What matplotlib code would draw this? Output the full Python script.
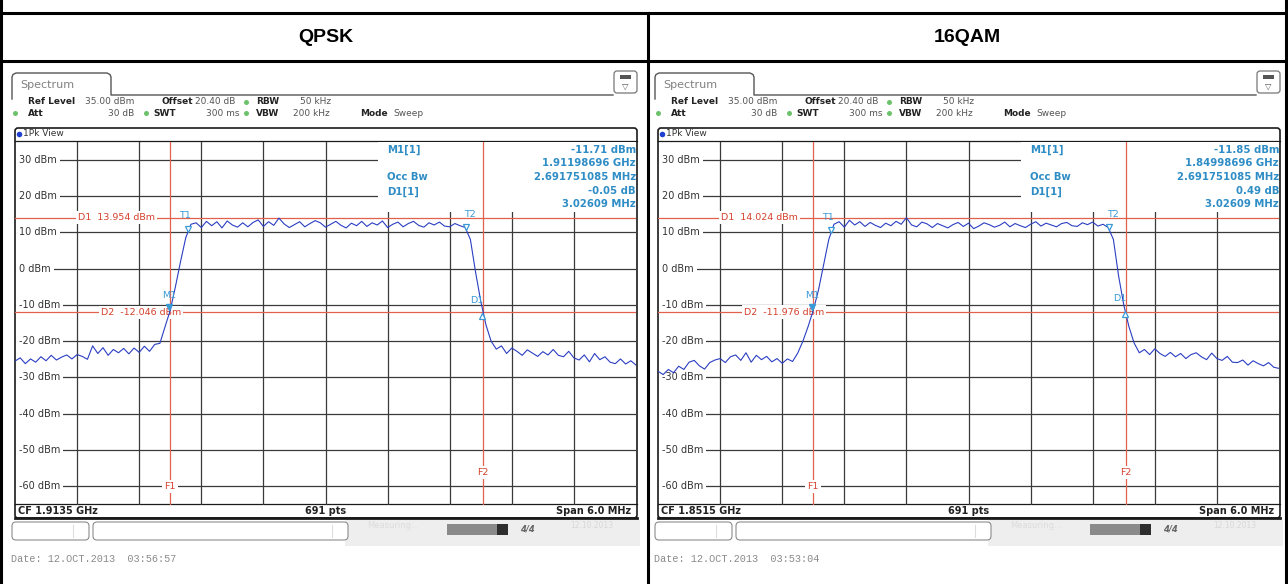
#occupied bandwidth screenshots, QPSK / 16QAM

import numpy as np
import matplotlib.pyplot as plt
from matplotlib.patches import FancyBboxPatch, Rectangle

W, H = 1288, 584

titles = ['QPSK', '16QAM']
cf_text = ['CF 1.9135 GHz', 'CF 1.8515 GHz']
date_text = ['Date: 12.OCT.2013  03:56:57', 'Date: 12.OCT.2013  03:53:04']
m1_level = [-11.71, -11.85]
m1_freq_text = ['1.91198696 GHz', '1.84998696 GHz']
occ_bw_text = '2.691751085 MHz'
d1_delta = [-0.05, 0.49]
d1_spacing_text = '3.02609 MHz'
d1_line = [13.954, 14.024]
d2_line = [-12.046, -11.976]
m1_offset = -1.513      # MHz from CF
d1_spacing = 3.02609
occ_bw = 2.691751085
t1_offset = -1.33
f1_offset = -1.50
f2_offset = 1.52
span = 6.0
ref_level = 35.0
y_range = 100.0
level_ticks = [30, 20, 10, 0, -10, -20, -30, -40, -50, -60]
freq_ticks = [-2.4, -1.8, -1.2, -0.6, 0.0, 0.6, 1.2, 1.8, 2.4]

# trace levels (dBm) read off the screens, evenly spread over the span
# QPSK
qpsk_low = [-25.5, -24.6, -26.2, -24.9, -25.8, -24.3, -25.4, -23.9, -25.2, -24.4,
            -23.8, -24.9, -23.7, -24.2, -25.0, -21.3, -23.4, -21.8, -23.9, -22.3,
            -23.2, -22.0, -23.5, -21.9, -23.1, -21.4, -22.8, -20.9, -20.6, -16.0]
qpsk_rise = [-11.5, -5, 2, 8.5, 12.2]
qpsk_top = [12.6, 11.3, 13.0, 11.8, 12.9, 11.2, 13.1, 12.0, 11.4, 12.6,
            11.5, 12.7, 13.4, 11.6, 12.9, 11.9, 13.9, 12.3, 11.3, 12.1,
            12.9, 11.5, 12.4, 13.2, 12.6, 11.4, 12.2, 13.0, 11.9, 11.2,
            12.5, 11.8, 13.0, 11.6, 12.6, 12.0, 13.1, 11.3, 12.2, 12.8,
            11.5, 12.4, 13.0, 11.9, 11.4, 12.6, 12.0, 12.8, 11.7, 11.5,
            12.4, 11.8, 11.3]
qpsk_fall = [8, -1, -9, -15.5, -20]
qpsk_high = [-22.2, -21.3, -23.4, -21.9, -22.8, -23.9, -22.4, -23.3, -24.2, -22.9,
             -23.8, -22.3, -23.9, -24.3, -22.8, -24.6, -25.2, -23.8, -25.7, -23.4,
             -25.1, -24.3, -25.8, -26.2, -24.9, -26.3, -25.4, -26.6]
# 16QAM
qam_low = [-28.3, -29.2, -27.8, -28.7, -26.9, -27.8, -25.8, -25.3, -26.8, -27.7,
           -25.9, -25.2, -24.8, -25.9, -24.3, -23.8, -25.3, -23.2, -25.8, -23.9,
           -25.1, -24.2, -25.7, -24.8, -26.1, -24.9, -25.6, -23.3, -20.0, -16.0]
qam_rise = [-11.5, -6, 1, 8, 12.2]
qam_top = [12.9, 11.4, 13.3, 12.0, 12.9, 11.6, 12.7, 11.9, 11.3, 12.5,
           11.8, 13.0, 12.2, 14.0, 12.0, 11.5, 12.8, 12.3, 11.3, 12.4,
           11.8, 11.2, 12.1, 12.7, 11.6, 12.5, 11.0, 11.7, 12.6, 12.1,
           11.4, 11.9, 12.8, 11.5, 12.4, 11.8, 11.3, 12.2, 12.9, 11.7,
           12.5, 12.0, 11.5, 12.4, 12.7, 11.8, 11.6, 12.6, 12.1, 12.8,
           11.7, 12.2, 11.3]
qam_fall = [8, -2, -10, -16, -20.5]
qam_high = [-23.2, -22.3, -23.7, -22.1, -23.4, -24.2, -23.1, -24.3, -23.4, -24.8,
            -23.7, -23.2, -24.3, -25.1, -23.3, -24.8, -25.3, -24.2, -25.8, -25.9,
            -25.2, -26.6, -25.4, -26.2, -26.8, -25.9, -27.2, -27.5]

traces = [qpsk_low + qpsk_rise + qpsk_top + qpsk_fall + qpsk_high,
          qam_low + qam_rise + qam_top + qam_fall + qam_high]

GRID = '#3a3a3a'
RED = '#e2614d'
RED_TXT = '#d4412c'
TRACE = '#2b3ec2'
MARK = '#3a9ad6'
INFO = '#2f8dc5'
LBL = '#333333'
SANS = 'DejaVu Sans'

# plot area in pixels, panel local
PX0, PX1 = 15, 636
PY0, PY1 = 141.5, 504.5


def px2f(px):
    return -span / 2 + (px - PX0) / (PX1 - PX0) * span


def py2l(py):
    return ref_level - (py - PY0) / (PY1 - PY0) * y_range


def panel_background(bg, ox, k):
    # spectrum tab + header line
    tx = [ox + 12, ox + 12, ox + 13, ox + 16, ox + 107, ox + 110, ox + 111, ox + 111, ox + 613]
    ty = [99, 77, 74.5, 73, 73, 74.5, 77, 95, 95]
    bg.plot(tx, ty, color='#555555', lw=1.0)
    bg.text(ox + 20, 84.5, 'Spectrum', fontsize=8, color='#808080', va='center', family=SANS)
    # icon box at the right
    bg.add_patch(FancyBboxPatch((ox + 614, 71), 23, 22, boxstyle='round,pad=0,rounding_size=3',
                                facecolor='white', edgecolor='#777777', lw=0.9))
    bg.add_patch(Rectangle((ox + 620, 75), 11, 4, facecolor='#555555', edgecolor='none'))
    bg.text(ox + 625.5, 86, '\u25bd', fontsize=6, color='#555555', ha='center', va='center')

    # settings rows
    fs = 6.5
    y1, y2 = 102, 113
    row = [(28, y1, 'Ref Level', 'bold', 'left'), (85, y1, '35.00 dBm', 'normal', 'left'),
           (162, y1, 'Offset', 'bold', 'left'), (195, y1, '20.40 dB', 'normal', 'left'),
           (256, y1, 'RBW', 'bold', 'left'), (300, y1, '50 kHz', 'normal', 'left'),
           (28, y2, 'Att', 'bold', 'left'), (134, y2, '30 dB', 'normal', 'right'),
           (153, y2, 'SWT', 'bold', 'left'), (240, y2, '300 ms', 'normal', 'right'),
           (256, y2, 'VBW', 'bold', 'left'), (293, y2, '200 kHz', 'normal', 'left'),
           (360, y2, 'Mode', 'bold', 'left'), (393, y2, 'Sweep', 'normal', 'left')]
    for x, y, s, w, ha in row:
        col = '#222222' if w == 'bold' else '#555555'
        bg.text(ox + x, y, s, fontsize=fs, fontweight=w, color=col, ha=ha, va='center', family=SANS)
    for x, y in [(246, y1), (15, y2), (146, y2), (246, y2)]:
        bg.plot(ox + x, y, 'o', ms=3.6, color='#6cc26c', mec='none')

    # plot frame
    bg.add_patch(FancyBboxPatch((ox + 15, 128), 622, 390, boxstyle='round,pad=0,rounding_size=3',
                                facecolor='none', edgecolor='#1a1a1a', lw=1.2))
    bg.plot([ox + 15, ox + 637], [517.5, 517.5], color='#1a1a1a', lw=2.0)
    bg.plot([ox + 15, ox + 637], [140.5, 140.5], color='#1a1a1a', lw=0.9)
    bg.plot([ox + 15, ox + 637], [503.5, 503.5], color='#1a1a1a', lw=0.9)
    bg.plot(ox + 19, 134, 'o', ms=4, color='#1f3fd0', mec='none')
    bg.text(ox + 23, 134, '1Pk View', fontsize=6.5, color=LBL, va='center', family=SANS)
    bg.text(ox + 18, 511, cf_text[k], fontsize=7, fontweight='bold', color='#222222', va='center', family=SANS)
    bg.text(ox + 326, 511, '691 pts', fontsize=7, fontweight='bold', color='#222222', ha='center', va='center', family=SANS)
    bg.text(ox + 631, 511, 'Span 6.0 MHz', fontsize=7, fontweight='bold', color='#222222', ha='right', va='center', family=SANS)

    # soft key / status bar under the plot
    bg.add_patch(Rectangle((ox + 345, 519.5), 295, 26, facecolor='#eeeeee', edgecolor='none'))
    bg.add_patch(FancyBboxPatch((ox + 12, 522), 77, 18, boxstyle='round,pad=0,rounding_size=4',
                                facecolor='white', edgecolor='#8c8c8c', lw=0.8))
    bg.add_patch(FancyBboxPatch((ox + 93, 522), 255, 18, boxstyle='round,pad=0,rounding_size=4',
                                facecolor='white', edgecolor='#8c8c8c', lw=0.8))
    bg.plot([ox + 73, ox + 73], [525, 537], color='#dddddd', lw=0.8)
    bg.plot([ox + 332, ox + 332], [525, 537], color='#dddddd', lw=0.8)
    bg.text(ox + 393, 526, 'Measuring...', fontsize=6, color='#dcdcdc', ha='center', va='center')
    bg.add_patch(Rectangle((ox + 447, 523.5), 52, 11, facecolor='#8a8a8a', edgecolor='none'))
    bg.add_patch(Rectangle((ox + 497, 523.5), 11, 11, facecolor='#2e2e2e', edgecolor='none'))
    bg.text(ox + 527, 529, '4/4', fontsize=6, fontweight='bold', style='italic', color='#666666', ha='center', va='center')
    bg.text(ox + 592, 525, '12.10.2013', fontsize=5.5, color='#d8d8d8', ha='center', va='center')

    bg.text(ox + 11, 559, date_text[k], fontsize=7.3, color='#8a8a8a', va='center', family='Liberation Mono')


def panel_plot(fig, ox, k):
    ax = fig.add_axes([(ox + PX0) / W, (H - PY1) / H, (PX1 - PX0) / W, (PY1 - PY0) / H])
    ax.patch.set_visible(False)
    for s in ax.spines.values():
        s.set_visible(False)
    ax.set_xlim(-span / 2, span / 2)
    ax.set_ylim(ref_level - y_range, ref_level)
    ax.set_xticks(freq_ticks)
    ax.set_yticks(level_ticks)
    ax.tick_params(length=0, labelbottom=False, labelleft=False)
    ax.set_axisbelow(True)
    ax.grid(True, color=GRID, lw=0.9)

    # marker table area hides the grid
    ax.add_patch(Rectangle((px2f(378), py2l(211.7)), span / 2 - px2f(378), ref_level - py2l(211.7),
                           facecolor='white', edgecolor='none', zorder=1))

    # level labels (under the display lines)
    for v in level_ticks:
        ax.text(px2f(19), v, '%d dBm' % v, fontsize=7, color=LBL, va='center',
                bbox=dict(facecolor='white', edgecolor='none', pad=2.2), zorder=1.5, family=SANS)

    # display lines
    ax.axhline(d1_line[k], color=RED, lw=0.9, zorder=2)
    ax.axhline(d2_line[k], color=RED, lw=0.9, zorder=2)
    ax.axvline(f1_offset, color=RED, lw=0.9, zorder=2)
    ax.axvline(f2_offset, color=RED, lw=0.9, zorder=2)
    wb = dict(facecolor='white', edgecolor='none', pad=1.5)
    ax.text(px2f(78), d1_line[k], 'D1  %.3f dBm' % d1_line[k], fontsize=6.8, color=RED_TXT,
            va='center', bbox=wb, zorder=2.5, family=SANS)
    ax.text(px2f(101), d2_line[k], 'D2  %.3f dBm' % d2_line[k], fontsize=6.8, color=RED_TXT,
            va='center', bbox=wb, zorder=2.5, family=SANS)
    ax.text(f1_offset, -60, 'F1', fontsize=6.8, color=RED_TXT, ha='center', va='center', bbox=wb, zorder=2.5)
    ax.text(f2_offset, -56.2, 'F2', fontsize=6.8, color=RED_TXT, ha='center', va='center', bbox=wb, zorder=2.5)

    # trace
    lv = traces[k]
    fr = np.linspace(-span / 2, span / 2, len(lv))
    ax.plot(fr, lv, color=TRACE, lw=0.8, zorder=3)

    # markers
    m1x = m1_offset
    d1x = m1_offset + d1_spacing
    t2x = t1_offset + occ_bw
    t1y = np.interp(t1_offset, fr, lv)
    t2y = np.interp(t2x, fr, lv)
    ax.plot(m1x, m1_level[k] + 1.2, 'v', ms=5, color=MARK, zorder=4)
    ax.text(m1x, m1_level[k] + 4.3, 'M1', fontsize=6.8, color=MARK, ha='center', va='center', zorder=4)
    ax.plot(d1x, m1_level[k] + d1_delta[k] - 1.2, '^', ms=5, mfc='white', mec=MARK, mew=0.9, zorder=4)
    ax.text(d1x - 0.05, m1_level[k] + d1_delta[k] + 3.0, 'D1', fontsize=6.8, color=MARK, ha='center', va='center', zorder=4)
    ax.plot(t1_offset, t1y + 1.0, 'v', ms=4.5, mfc='white', mec=MARK, mew=0.9, zorder=4)
    ax.text(t1_offset - 0.03, t1y + 4.5, 'T1', fontsize=6.8, color=MARK, ha='center', va='center', zorder=4)
    ax.plot(t2x, t2y + 1.0, 'v', ms=4.5, mfc='white', mec=MARK, mew=0.9, zorder=4)
    ax.text(t2x + 0.03, t2y + 4.5, 'T2', fontsize=6.8, color=MARK, ha='center', va='center', zorder=4)

    # marker table
    rows_y = [150, 163, 177, 191.5, 204]
    right_txt = ['%.2f dBm' % m1_level[k], m1_freq_text[k], occ_bw_text, '%.2f dB' % d1_delta[k], d1_spacing_text]
    for y, s in zip(rows_y, right_txt):
        ax.text(px2f(636), py2l(y), s, fontsize=7.3, fontweight='bold', color=INFO, ha='right', va='center',
                zorder=5, family=SANS)
    for y, s in zip([150, 177, 191.5], ['M1[1]', 'Occ Bw', 'D1[1]']):
        ax.text(px2f(387), py2l(y), s, fontsize=7.3, fontweight='bold', color=INFO, ha='left', va='center',
                zorder=5, family=SANS)
    return ax


def main():
    fig = plt.figure(figsize=(W / 100, H / 100), dpi=100)
    bg = fig.add_axes([0, 0, 1, 1])
    bg.set_xlim(0, W)
    bg.set_ylim(H, 0)
    bg.axis('off')

    # table grid
    lw = 2.2
    bg.plot([0, W], [13, 13], color='black', lw=lw)
    bg.plot([0, W], [61, 61], color='black', lw=lw)
    bg.plot([1.5, 1.5], [0, H], color='black', lw=lw)
    bg.plot([W - 2, W - 2], [0, H], color='black', lw=lw)
    bg.plot([648, 648], [13, H], color='black', lw=lw)
    bg.text(326, 37, titles[0], fontsize=14, fontweight='bold', ha='center', va='center', family='Liberation Sans')
    bg.text(967, 37, titles[1], fontsize=14, fontweight='bold', ha='center', va='center', family='Liberation Sans')

    for k, ox in enumerate([0, 643]):
        panel_background(bg, ox, k)
        panel_plot(fig, ox, k)

    fig.savefig('out.png', dpi=100)


main()
